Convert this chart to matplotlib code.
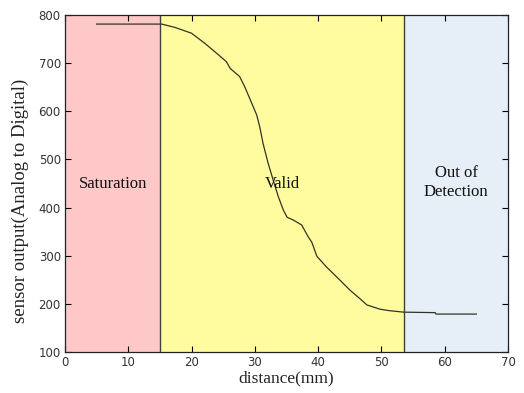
import matplotlib
matplotlib.use("Agg")
import matplotlib.pyplot as plt

# Data
distance = [5, 15, 15.3, 17.4, 20.0, 22.1, 24.0, 25.5, 26.1, 27.6, 28.4, 29.5, 30.3,
            30.8, 31.3, 32.1, 32.9, 33.7, 34.5, 35.1, 36.1, 37.4, 38.4, 39.0,
            39.8, 41.3, 43.4, 45.0, 46.6, 47.7, 49.8, 51.3, 53.5, 58.5, 58.6, 65]
sensor = [781, 781, 781, 774, 762, 741, 720, 703, 689, 672, 651, 617, 592,
          566, 533, 492, 457, 423, 395, 380, 374, 364, 340, 328,
          299, 277, 250, 229, 211, 198, 189, 186, 183, 182, 179, 179]

regions = [(0, 15, "#ffc8c8", "Saturation", 7.6, 450),
           (15, 53.5, "#fffca0", "Valid", 34.4, 450),
           (53.5, 70, "#e6eef8", "Out of\nDetection", 61.8, 452)]
x_ticks = list(range(0, 71, 10))
y_ticks = list(range(100, 801, 100))

fig = plt.figure(figsize=(5.24, 3.93), dpi=100)
ax = fig.add_axes([0.124, 0.104, 0.8455, 0.858])

for x0, x1, col, label, tx, ty in regions:
    ax.axvspan(x0, x1, color=col, lw=0, zorder=0)
    ax.text(tx, ty, label, ha="center", va="center", fontsize=12,
            family="Liberation Serif", color="#111111", linespacing=1.25)
for xb in (15, 53.5):
    ax.axvline(xb, color="#404040", lw=1.0, zorder=1)

ax.plot(distance, sensor, color="#333322", lw=0.9, zorder=2)

ax.set_xlim(0, 70)
ax.set_ylim(100, 800)
ax.set_xticks(x_ticks)
ax.set_yticks(y_ticks)
ax.tick_params(direction="in", top=True, right=True, length=4, width=0.8,
               labelsize=8.5, labelcolor="#333333", pad=3)
for s in ax.spines.values():
    s.set_color("#222222")
    s.set_linewidth(0.9)

ax.set_xlabel("distance(mm)", fontsize=12.5, family="Liberation Serif",
              labelpad=1, color="#222222")
ax.set_ylabel("sensor output(Analog to Digital)", fontsize=13.5,
              family="Liberation Serif", color="#222222")
ax.yaxis.set_label_coords(-0.082, 0.45)

fig.savefig("out.png", dpi=100)
